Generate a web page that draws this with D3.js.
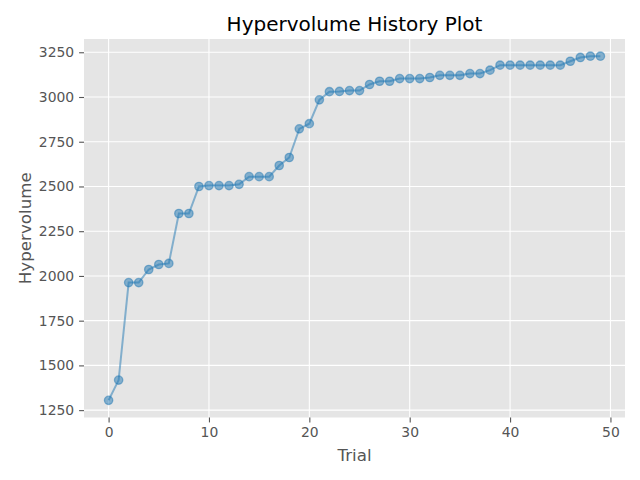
<!DOCTYPE html>
<html>
<head>
<meta charset="utf-8">
<script src="https://cdn.jsdelivr.net/npm/d3@7"></script>
<style>
  body { margin: 0; background: #fff; }
  svg { display: block; font-family: "DejaVu Sans", sans-serif; }
</style>
</head>
<body>
<div id="res"></div>
<script>
/* hypervolume per trial */
var trials = d3.range(0, 50);
var hypervolume = [
  1305, 1418, 1963, 1963, 2036, 2064, 2070, 2349, 2349, 2500,
  2505, 2505, 2505, 2512, 2555, 2555, 2555, 2617, 2662, 2822,
  2851, 2984, 3030, 3031, 3036, 3036, 3070, 3088, 3088, 3103,
  3103, 3103, 3109, 3121, 3121, 3121, 3131, 3131, 3150, 3178,
  3178, 3178, 3178, 3178, 3178, 3178, 3200, 3221, 3228, 3228
];
var xTicks = [0, 10, 20, 30, 40, 50];
var yTicks = [1250, 1500, 1750, 2000, 2250, 2500, 2750, 3000, 3250];

/* size of the graphic (panel edges) */
var width = 640, height = 480;
var panelL = 84, panelR = 625, panelT = 39, panelB = 417.5;
var grey = "#555555";

var svg = d3.select("#res")
  .append("svg")
    .attr("width", width)
    .attr("height", height);

/* 5% padding like matplotlib autoscale */
var xExt = d3.extent(trials), yExt = d3.extent(hypervolume);
var xPad = (xExt[1] - xExt[0]) * 0.05, yPad = (yExt[1] - yExt[0]) * 0.05;

var x = d3.scaleLinear()
  .domain([xExt[0] - xPad, xExt[1] + xPad])
  .range([panelL, panelR]);

var y = d3.scaleLinear()
  .domain([yExt[0] - yPad, yExt[1] + yPad])
  .range([panelB, panelT]);

/* panel background */
svg.append("rect")
  .attr("x", panelL).attr("y", panelT)
  .attr("width", panelR - panelL).attr("height", panelB - panelT)
  .style("fill", "#E5E5E5");

/* grid lines */
svg.append("g").selectAll("line").data(xTicks).join("line")
  .attr("x1", d => x(d)).attr("x2", d => x(d))
  .attr("y1", panelT).attr("y2", panelB)
  .style("stroke", "#fff").attr("stroke-width", 1.1);

svg.append("g").selectAll("line").data(yTicks).join("line")
  .attr("x1", panelL).attr("x2", panelR)
  .attr("y1", d => y(d)).attr("y2", d => y(d))
  .style("stroke", "#fff").attr("stroke-width", 1.1);

/* axes */
var xAxis = svg.append("g")
  .attr("transform", "translate(0," + panelB + ")")
  .call(d3.axisBottom(x).tickValues(xTicks).tickSize(4.9).tickPadding(4.9));

var yAxis = svg.append("g")
  .attr("transform", "translate(" + panelL + ",0)")
  .call(d3.axisLeft(y).tickValues(yTicks).tickSize(4.9).tickPadding(4.9).tickFormat(d3.format("d")));

[xAxis, yAxis].forEach(function(a) {
  a.select(".domain").remove();
  a.selectAll(".tick line").style("stroke", grey).attr("stroke-width", 1.1);
  a.selectAll(".tick text")
    .style("fill", grey)
    .style("font-size", "13.9px")
    .style("font-family", "DejaVu Sans");
});

/* line and markers */
var line = d3.line()
  .x((d, i) => x(trials[i]))
  .y(d => y(d));

svg.append("path")
  .datum(hypervolume)
  .attr("d", line)
  .style("fill", "none")
  .style("stroke", "#1f77b4")
  .style("stroke-opacity", 0.5)
  .attr("stroke-width", 2);

svg.append("g").selectAll("circle").data(hypervolume).join("circle")
  .attr("cx", (d, i) => x(trials[i]))
  .attr("cy", d => y(d))
  .attr("r", 4.17)
  .style("fill", "#1f77b4")
  .style("fill-opacity", 0.5)
  .style("stroke", "#1f77b4")
  .style("stroke-opacity", 0.5)
  .attr("stroke-width", 1.33);

/* labels */
svg.append("text")
  .attr("x", (panelL + panelR) / 2)
  .attr("y", 31)
  .attr("text-anchor", "middle")
  .style("font-size", "20px")
  .style("fill", "#000")
  .text("Hypervolume History Plot");

svg.append("text")
  .attr("x", (panelL + panelR) / 2)
  .attr("y", 461)
  .attr("text-anchor", "middle")
  .style("font-size", "16.7px")
  .style("fill", grey)
  .text("Trial");

svg.append("text")
  .attr("transform", "translate(31," + ((panelT + panelB) / 2) + ") rotate(-90)")
  .attr("text-anchor", "middle")
  .style("font-size", "16.7px")
  .style("fill", grey)
  .text("Hypervolume");
</script>
</body>
</html>
